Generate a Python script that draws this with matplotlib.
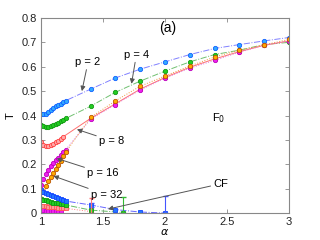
import matplotlib
matplotlib.use("Agg")
import matplotlib.pyplot as plt

plt.rcParams['font.family'] = ['Liberation Sans', 'DejaVu Sans']

# ---- data ----
x_dense = [1.0, 1.02, 1.04, 1.06, 1.08, 1.10, 1.12, 1.14, 1.16, 1.18, 1.20]
x_coarse = [1.4, 1.6, 1.8, 2.0, 2.2, 2.4, 2.6, 2.8, 3.0]

# F0 curves (upper)
p2_dense = [0.405, 0.405, 0.408, 0.415, 0.422, 0.430, 0.437, 0.443, 0.449, 0.455, 0.461]
p2_coarse = [0.508, 0.554, 0.590, 0.620, 0.650, 0.675, 0.691, 0.706, 0.720]
p4_dense = [0.362, 0.355, 0.353, 0.354, 0.357, 0.361, 0.366, 0.371, 0.377, 0.383, 0.388]
p4_coarse = [0.438, 0.495, 0.541, 0.582, 0.620, 0.650, 0.668, 0.691, 0.700]
p8_dense = [0.290, 0.279, 0.274, 0.274, 0.277, 0.283, 0.290, 0.297, 0.305, 0.313]
p8_coarse = [0.388, 0.448, 0.508, 0.556, 0.598, 0.632, 0.662, 0.688, 0.706]
p16_dense = [0.115, 0.140, 0.160, 0.177, 0.192, 0.205, 0.216, 0.227, 0.238, 0.249, 0.260]
p16_coarse = [0.385, 0.445, 0.505, 0.553, 0.594, 0.626, 0.660, 0.688, 0.707]
p32_dense = [0.055, 0.085, 0.110, 0.130, 0.148, 0.165, 0.181, 0.198, 0.215, 0.232, 0.250]
p32_coarse = [0.392, 0.460, 0.520, 0.562, 0.603, 0.640, 0.668, 0.690, 0.712]

# CF curves (lower)
cf2_x = x_dense + [1.4, 1.6, 1.8, 2.0]
cf2_y = [0.094, 0.088, 0.083, 0.078, 0.073, 0.068, 0.064, 0.060, 0.056, 0.052, 0.049,
         0.033, 0.014, 0.004, 0.0]
cf4_x = x_dense + [1.4, 1.66]
cf4_y = [0.058, 0.055, 0.052, 0.049, 0.046, 0.043, 0.041, 0.039, 0.037, 0.035, 0.033,
         0.012, 0.002]
cf8_x = x_dense + [1.4]
cf8_y = [0.030, 0.028, 0.027, 0.026, 0.025, 0.024, 0.023, 0.022, 0.021, 0.020, 0.019,
         0.006]
cf16_x = [1.0, 1.02, 1.04, 1.06, 1.08, 1.10, 1.12, 1.14, 1.16]
cf16_y = [0.012, 0.011, 0.010, 0.010, 0.009, 0.009, 0.008, 0.008, 0.008]

# error bars (x, y, lower, upper)
err_blue = ([1.4, 2.0], [0.033, 0.0], [0.008, 0.0], [0.008, 0.07])
err_green = ([1.66], [0.002], [0.002], [0.063])
err_red = ([1.4], [0.006], [0.006], [0.055])

fig = plt.figure(figsize=(3.2, 2.4), dpi=100)
ax = fig.add_axes([0.128, 0.1125, 0.775, 0.8125])

styles = {
    'p2': dict(color='#8080ff', ls='-.', mfc='#33aaff', mec='#1060ff'),
    'p4': dict(color='#70c070', ls='-.', mfc='#22cc22', mec='#119911'),
    'p8': dict(color='#ff7070', ls='-', mfc='#ffaaaa', mec='#ff4040'),
    'p16': dict(color='#dd77dd', ls=':', mfc='#ee22ee', mec='#bb00bb'),
    'p32': dict(color='#ee9944', ls=':', mfc='#ffaa00', mec='#bb5500'),
}

def draw(xs, ys, st, marker='o', ms=3.1, lw=0.7):
    ax.plot(xs, ys, color=st['color'], ls=st['ls'], lw=lw, marker=marker, ms=ms,
            mfc=st['mfc'], mec=st['mec'], mew=0.6)

draw(x_dense + x_coarse, p2_dense + p2_coarse, styles['p2'])
draw(x_dense + x_coarse, p4_dense + p4_coarse, styles['p4'])
draw(x_dense[:10] + x_coarse, p8_dense + p8_coarse, styles['p8'])
draw(x_dense + x_coarse, p16_dense + p16_coarse, styles['p16'])
draw(x_dense + x_coarse, p32_dense + p32_coarse, styles['p32'])

# lower CF curves
draw(cf16_x, cf16_y, dict(color='#dd66dd', ls='-', mfc='#ee22ee', mec='#cc00cc'), marker='s', ms=2.8)
draw(cf8_x, cf8_y, dict(color='#ff8080', ls=':', mfc='#ff9999', mec='#ff5555'), marker='s', ms=2.8)
draw(cf4_x, cf4_y, dict(color='#66bb66', ls='-.', mfc='#22cc22', mec='#119911'), marker='s', ms=2.8)
draw(cf2_x, cf2_y, dict(color='#6666ff', ls='-.', mfc='#2277ff', mec='#1144ff'), marker='s', ms=2.8)

for (ex, ey, lo, hi), c in [(err_blue, '#4455ff'), (err_green, '#33bb33'), (err_red, '#ff7777')]:
    ax.errorbar(ex, ey, yerr=[lo, hi], fmt='none', ecolor=c, elinewidth=0.8, capsize=1.8)

ax.set_xlim(1, 3)
ax.set_ylim(0, 0.8)
ax.set_xticks([1, 1.5, 2, 2.5, 3])
ax.set_xticklabels(['1', '1.5', '2', '2.5', '3'])
ax.set_yticks([0, 0.1, 0.2, 0.3, 0.4, 0.5, 0.6, 0.7, 0.8])
ax.set_yticklabels(['0', '0.1', '0.2', '0.3', '0.4', '0.5', '0.6', '0.7', '0.8'])
ax.tick_params(direction='in', top=True, right=True, length=3, width=0.6,
               color='#888888', labelsize=8, labelcolor='#222222', pad=3)
for s in ax.spines.values():
    s.set_color('#888888')
    s.set_linewidth(0.8)

ax.set_xlabel(r'$\alpha$', fontsize=8, labelpad=0)
ax.set_ylabel('T', fontsize=8, labelpad=4)

ax.text(2.02, 0.76, '(a)', fontsize=10, ha='center', va='center')
ax.text(2.43, 0.39, r'F$_0$', fontsize=8, ha='center', va='center')

arrow = dict(arrowstyle='-|>', color='#555555', lw=0.7, mutation_scale=7, shrinkA=0, shrinkB=0)
annots = [
    ('p = 2', (1.33, 0.50), (1.38, 0.62)),
    ('p = 4', (1.73, 0.53), (1.77, 0.65)),
    ('p = 8', (1.29, 0.343), (1.57, 0.296)),
    ('p = 16', (1.127, 0.224), (1.50, 0.163)),
    ('p = 32', (1.10, 0.152), (1.53, 0.074)),
    ('CF', (1.54, 0.016), (2.45, 0.12)),
]
for txt, xy, xyt in annots:
    ax.annotate(txt, xy=xy, xytext=xyt, fontsize=8, ha='center', va='center',
                arrowprops=arrow)

fig.savefig('out.png', dpi=100)
